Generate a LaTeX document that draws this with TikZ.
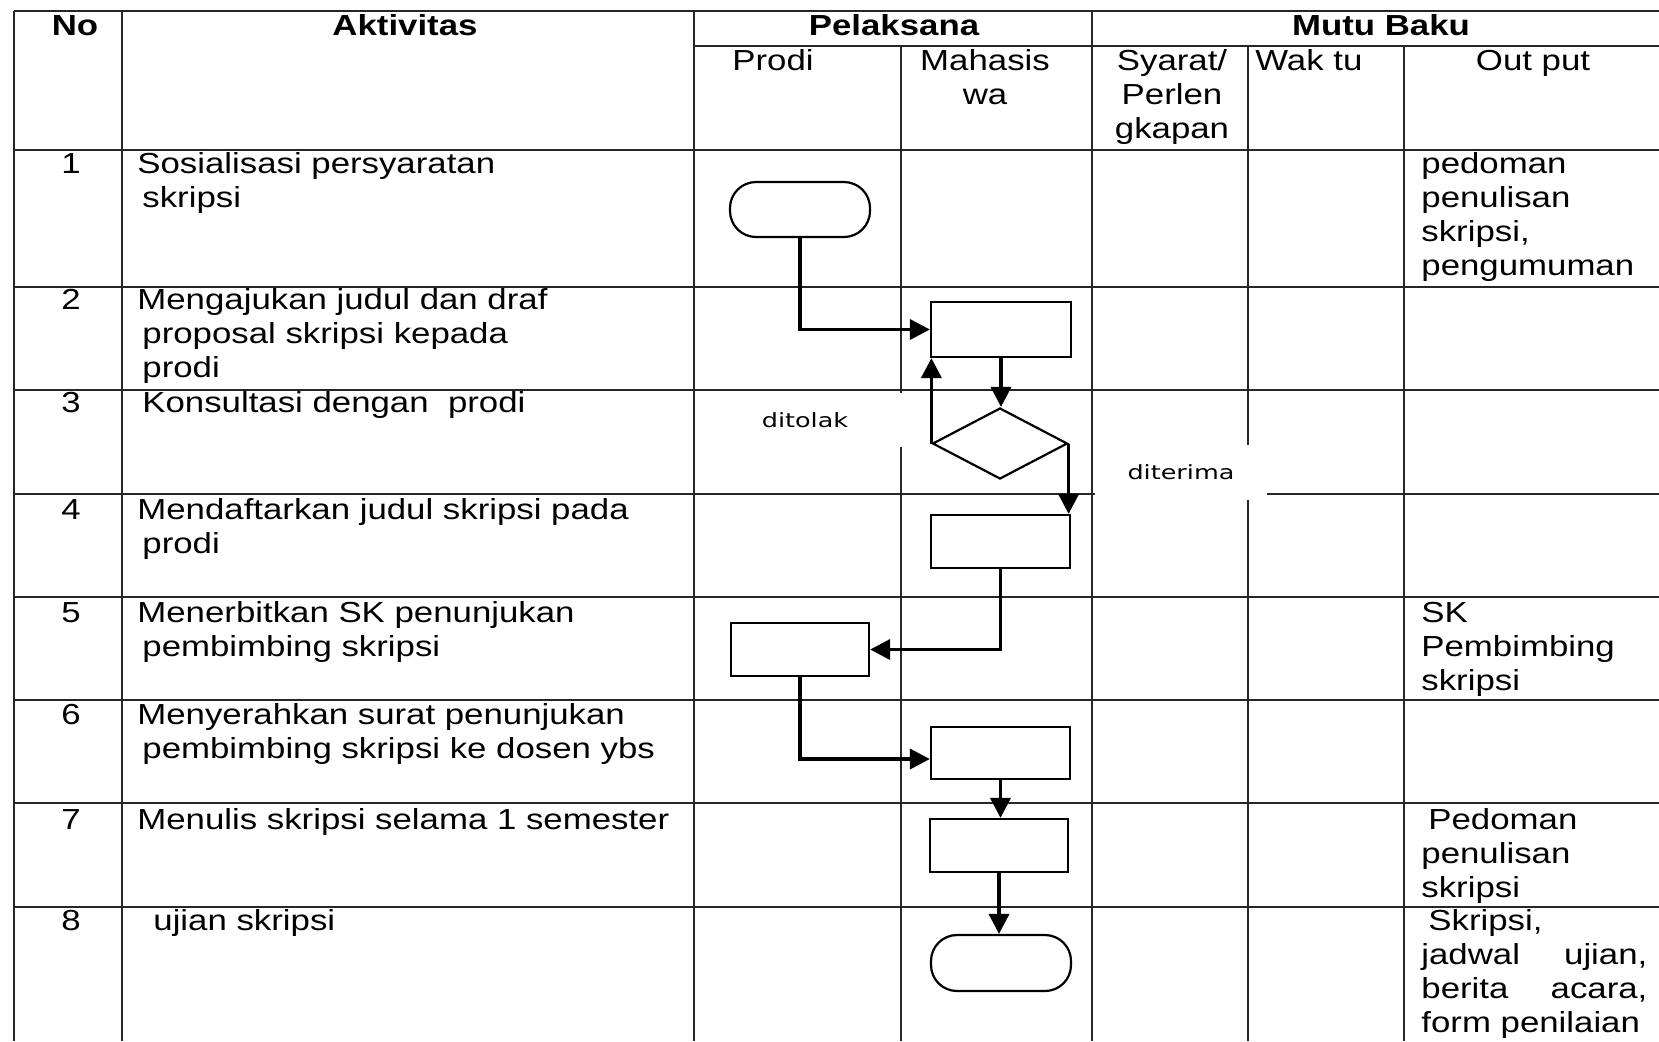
\documentclass[tikz,border=0pt]{standalone}
\usepackage{fontspec}
\setmainfont{Liberation Sans}[FakeStretch=1.2]
\newfontfamily\lblfont{DejaVu Sans}[FakeStretch=1.3]
\usetikzlibrary{arrows.meta,shapes.geometric}

\begin{document}
\begin{tikzpicture}[x=0.5pt,y=-0.5pt,
  grid/.style={line width=1.3pt, draw=black!85},
  txt/.style={inner sep=0pt, anchor=base west, align=left, text width=290pt, font=\fontsize{14.5pt}{17pt}\selectfont},
  ctxt/.style={inner sep=0pt, anchor=base, align=center, font=\fontsize{14.5pt}{17pt}\selectfont},
  ntxt/.style={inner sep=0pt, anchor=base, font=\fontsize{14.5pt}{17pt}\selectfont},
  hdr/.style={inner sep=0pt, anchor=base, font=\fontsize{14.5pt}{17pt}\selectfont\bfseries},
  proc/.style={draw, line width=1.1pt, minimum width=70pt, minimum height=27.5pt, inner sep=0pt},
  term/.style={proc, rounded corners=13pt},
  decision/.style={draw, diamond, line width=1.1pt, inner sep=0pt, minimum width=67.5pt, minimum height=35.5pt},
  arr/.style={line width=1.8pt, -{Triangle[length=10pt,width=10pt]}},
  lbl/.style={fill=white, inner sep=0pt, font=\lblfont\fontsize{9.8pt}{11pt}\selectfont},
]
\useasboundingbox (0,0) rectangle (1659,1041);
\fill[white] (0,0) rectangle (1659,1041);

% table grid
\draw[grid] (14,11) -- (1659,11);
\draw[grid] (694,46) -- (1659,46);
\foreach \y in {150,287,390,494,597,700,803,907} \draw[grid] (14,\y) -- (1659,\y);
\foreach \x in {14,122,694,1092} \draw[grid] (\x,11) -- (\x,1041);
\foreach \x in {901,1248,1404} \draw[grid] (\x,46) -- (\x,1041);

% headers
\node[hdr] (hNo) at (75,35) {No};
\node[hdr] (hAkt) at (405,35) {Aktivitas};
\node[hdr] (hPel) at (894,35) {Pelaksana};
\node[hdr] (hMutu) at (1381,35) {Mutu Baku};
\node[ctxt, text width=50pt] (hProdi) at (773,70) {Prodi};
\node[ctxt, text width=90pt] (hMhs) at (985,70) {Mahasis\\wa};
\node[ctxt, text width=76pt] (hSyarat) at (1172,70) {Syarat/\\Perlen\\gkapan};
\node[txt, text width=70pt] (hWaktu) at (1255,70) {Wak tu};
\node[ctxt, text width=100pt] (hOut) at (1533,70) {Out put};

% numbers
\node[ntxt] (n1) at (71,173) {1};
\node[ntxt] (n2) at (71,309) {2};
\node[ntxt] (n3) at (71,412) {3};
\node[ntxt] (n4) at (71,519) {4};
\node[ntxt] (n5) at (71,622) {5};
\node[ntxt] (n6) at (71,724) {6};
\node[ntxt] (n7) at (71,829) {7};
\node[ntxt] (n8) at (71,930) {8};

% activities
\node[txt] (a1) at (137,173) {Sosialisasi persyaratan\\\hspace*{2.5pt}skripsi};
\node[txt] (a2) at (137,309) {Mengajukan judul dan draf\\\hspace*{2.5pt}proposal skripsi kepada\\\hspace*{2.5pt}prodi};
\node[txt] (a3) at (142,412) {Konsultasi dengan \ prodi};
\node[txt] (a4) at (137,519) {Mendaftarkan judul skripsi pada\\\hspace*{2.5pt}prodi};
\node[txt] (a5) at (137,622) {Menerbitkan SK penunjukan\\\hspace*{2.5pt}pembimbing skripsi};
\node[txt] (a6) at (137,724) {Menyerahkan surat penunjukan\\\hspace*{2.5pt}pembimbing skripsi ke dosen ybs};
\node[txt] (a7) at (137,829) {Menulis skripsi selama 1 semester};
\node[txt] (a8) at (153,930) {ujian skripsi};

% outputs
\node[txt, text width=115pt] (o1) at (1421,173) {pedoman\\penulisan\\skripsi,\\pengumuman};
\node[txt, text width=115pt] (o5) at (1421,622) {SK\\Pembimbing\\skripsi};
\node[txt, text width=115pt] (o7) at (1421,829) {\hspace*{3.5pt}Pedoman\\penulisan\\skripsi};
\node[txt, text width=115pt] (o8) at (1421,930) {\hspace*{3.5pt}Skripsi,\\\makebox[113pt][s]{jadwal\hfill ujian,}\\\makebox[113pt][s]{berita\hfill acara,}\\form penilaian};

% branch labels (white boxes cover grid lines)
\node[lbl, minimum width=100pt, minimum height=27pt] (ditolak) at (805,420) {ditolak};
\node[lbl, minimum width=86pt, minimum height=27.5pt] (diterima) at (1181,472.5) {diterima};

% flow shapes
\node[term] (t1) at (800,209.5) {};
\node[proc] (b2) at (1001,329.5) {};
\node[decision] (d3) at (1000,443.5) {};
\node[proc, minimum width=69.5pt, minimum height=26.5pt] (b4) at (1000.5,541.5) {};
\node[proc, minimum width=69pt, minimum height=26.5pt] (b5) at (800,649.5) {};
\node[proc, minimum width=69.5pt, minimum height=26pt] (b6) at (1000.5,753) {};
\node[proc, minimum width=69pt, minimum height=26.5pt] (b7) at (999,845.5) {};
\node[term, minimum height=28pt] (t2) at (1001,963) {};

% connectors
\draw[arr] (t1.south) |- (b2.west);
\draw[arr] (b2.south) -- (b2.south |- d3.north);
\draw[arr] (d3.west) -- (d3.west |- b2.south);
\draw[arr] (d3.east) -- (d3.east |- b4.north);
\draw[arr] (b4.south) |- (b5.east);
\draw[arr] (b5.south) |- ([yshift=-3pt]b6.west);
\draw[arr] (b6.south) -- (b6.south |- b7.north);
\draw[arr] (b7.south) -- (b7.south |- t2.north);
\end{tikzpicture}
\end{document}
